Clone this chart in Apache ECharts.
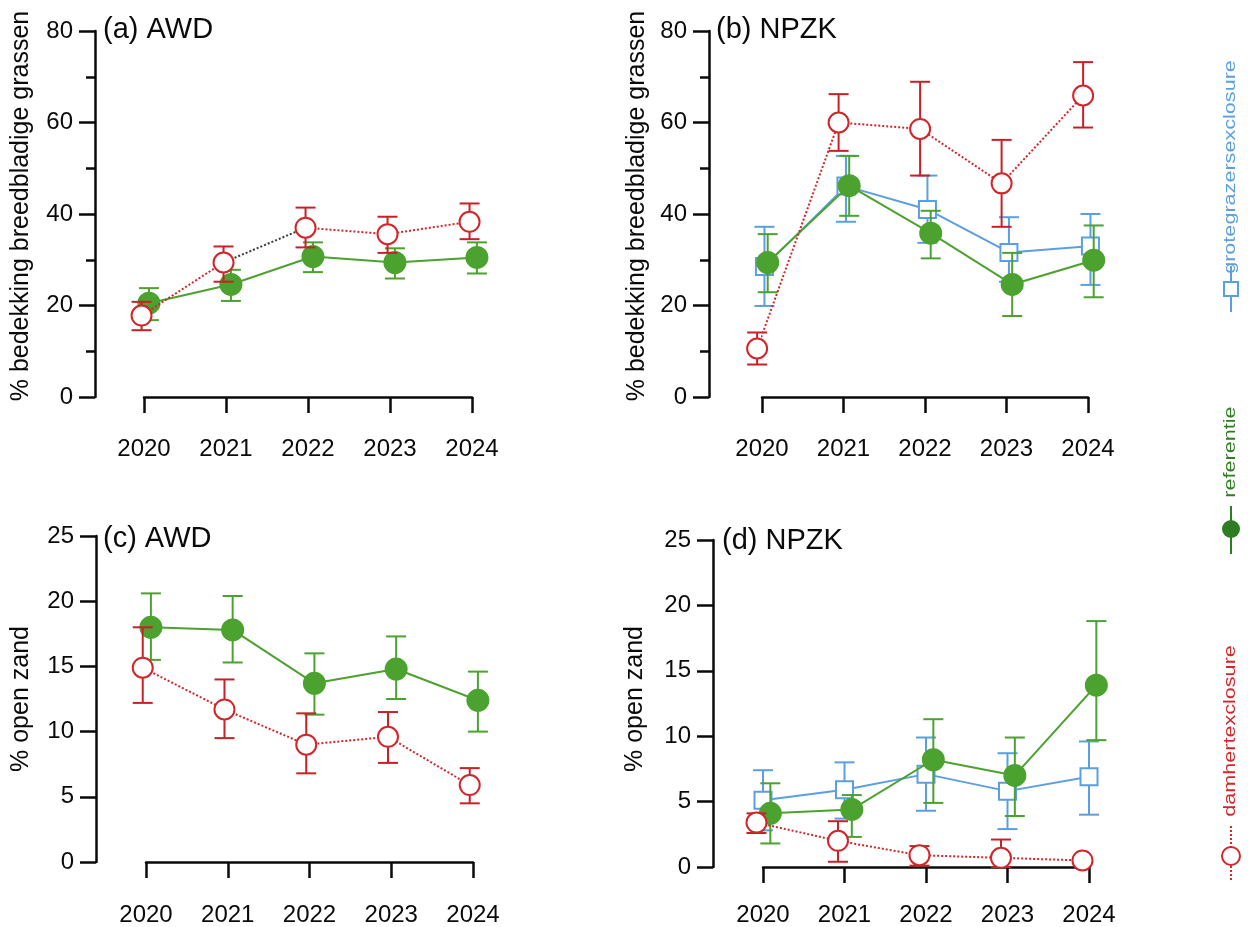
<!DOCTYPE html>
<html>
<head>
<meta charset="utf-8">
<script src="https://cdn.jsdelivr.net/npm/echarts@6/dist/echarts.min.js"></script>
<style>
  html, body { margin: 0; padding: 0; background: #fff; }
  #chart { width: 1248px; height: 927px; }
</style>
</head>
<body>
<div id="chart"></div>
<script>
// years on the x axis
const years = [2020, 2021, 2022, 2023, 2024];

// (a) AWD - % bedekking breedbladige grassen
const refA = [20.5, 24.6, 30.7, 29.4, 30.5];
const refALo = [16.8, 21.0, 27.3, 25.9, 27.0];
const refAHi = [23.8, 27.8, 33.8, 32.5, 33.8];
const damA = [17.8, 29.4, 37.0, 35.6, 38.3];
const damALo = [14.6, 25.2, 32.7, 31.5, 34.5];
const damAHi = [20.8, 32.9, 41.4, 39.4, 42.3];

// (b) NPZK - % bedekking breedbladige grassen
const damB = [10.6, 60.0, 58.6, 46.7, 65.9];
const damBLo = [7.1, 53.8, 48.4, 37.2, 58.9];
const damBHi = [14.1, 66.2, 68.9, 56.2, 73.2];
const groB = [28.5, 46.1, 41.0, 31.6, 33.0];
const groBLo = [19.9, 38.3, 33.7, 25.2, 24.5];
const groBHi = [37.2, 52.7, 48.4, 39.3, 40.0];
const refB = [29.4, 46.2, 35.8, 24.6, 29.9];
const refBLo = [22.9, 39.6, 30.3, 17.7, 21.8];
const refBHi = [35.6, 52.7, 40.7, 31.5, 37.5];

// (c) AWD - % open zand
const refC = [18.0, 17.8, 13.7, 14.8, 12.4];
const refCLo = [15.5, 15.3, 11.3, 12.5, 10.0];
const refCHi = [20.6, 20.4, 16.0, 17.3, 14.6];
const damC = [14.9, 11.7, 9.0, 9.6, 5.9];
const damCLo = [12.2, 9.5, 6.8, 7.6, 4.5];
const damCHi = [18.0, 14.0, 11.4, 11.5, 7.2];

// (d) NPZK - % open zand
const refD = [4.1, 4.4, 8.2, 7.0, 13.9];
const refDLo = [1.8, 2.3, 4.9, 3.9, 9.7];
const refDHi = [6.4, 5.5, 11.3, 9.9, 18.8];
const groD = [5.1, 5.9, 7.1, 5.8, 6.9];
const groDLo = [2.8, 3.7, 4.3, 2.9, 4.0];
const groDHi = [7.4, 8.0, 9.9, 8.7, 9.6];
const damD = [3.4, 2.0, 0.9, 0.7, 0.5];
const damDLo = [2.6, 0.4, 0.1, 0.0, 0.4];
const damDHi = [4.1, 3.5, 1.6, 2.1, 0.6];

// tick labels
const yTicksBreed = [0, 20, 40, 60, 80];
const yTicksZand = [0, 5, 10, 15, 20, 25];

const RED = '#d3262b';
const RED_BAR = '#c92027';
const GREEN = '#4ca22f';
const BLUE = '#5b9fe0';
const LEG_GREEN = '#2f7d22';
const INK = '#0a0a0a';
const FONT = '"Liberation Sans", Arial, sans-serif';

// panel layout: grid box + offset of the detached axes
const panels = [
  { left: 144, top: 31, width: 328, height: 366, yOff: 49, xOff: 19, ticks: yTicksBreed, minor: true },
  { left: 762, top: 31, width: 326, height: 366, yOff: 53, xOff: 19, ticks: yTicksBreed, minor: true },
  { left: 146, top: 536, width: 327, height: 328, yOff: 50, xOff: 20, ticks: yTicksZand, minor: false },
  { left: 763, top: 540, width: 326, height: 328, yOff: 50, xOff: 15, ticks: yTicksZand, minor: false }
];

const grid = [], xAxis = [], yAxis = [], series = [];

panels.forEach((p, i) => {
  grid.push({ left: p.left, top: p.top, width: p.width, height: p.height });
  const step = p.ticks[1] - p.ticks[0];
  xAxis.push({
    type: 'value', gridIndex: i, min: years[0], max: years[years.length - 1], interval: 1,
    offset: p.xOff,
    axisLine: { lineStyle: { color: INK, width: 2.5 } },
    axisTick: { length: 16, lineStyle: { color: INK, width: 2.5 } },
    axisLabel: { color: INK, fontSize: 24, fontFamily: FONT, margin: 21, formatter: v => String(v) },
    splitLine: { show: false }
  });
  yAxis.push({
    type: 'value', gridIndex: i, min: p.ticks[0], max: p.ticks[p.ticks.length - 1], interval: step,
    offset: p.yOff,
    axisLine: { show: true, lineStyle: { color: INK, width: 2.5 } },
    axisTick: { show: true, length: 16, lineStyle: { color: INK, width: 2.5 } },
    minorTick: { show: p.minor, splitNumber: 2, length: 9, lineStyle: { color: INK, width: 2.5 } },
    axisLabel: { color: INK, fontSize: 24, fontFamily: FONT, margin: 22 },
    splitLine: { show: false }
  });
});

function errorBar(color) {
  return function (params, api) {
    const x = api.value(0);
    const top = api.coord([x, api.value(3)]);
    const bot = api.coord([x, api.value(2)]);
    const w = 10;
    const st = { stroke: color, lineWidth: 2 };
    return {
      type: 'group',
      children: [
        { type: 'line', shape: { x1: top[0], y1: top[1], x2: bot[0], y2: bot[1] }, style: st },
        { type: 'line', shape: { x1: top[0] - w, y1: top[1], x2: top[0] + w, y2: top[1] }, style: st },
        { type: 'line', shape: { x1: bot[0] - w, y1: bot[1], x2: bot[0] + w, y2: bot[1] }, style: st }
      ]
    };
  };
}

const STYLES = {
  dam: { color: RED, bar: RED_BAR, fill: '#fff', symbol: 'circle', size: 20, dash: 'dotted', z: 6 },
  ref: { color: GREEN, bar: GREEN, fill: GREEN, symbol: 'circle', size: 21, dash: 'solid', z: 4 },
  gro: { color: BLUE, bar: BLUE, fill: '#fff', symbol: 'rect', size: 17, dash: 'solid', z: 2 }
};

function lineSeries(gi, pts, color, dash, z) {
  return {
    type: 'line', xAxisIndex: gi, yAxisIndex: gi, data: pts, symbol: 'none', clip: false,
    lineStyle: { color: color, width: 2, type: dash }, z: z, silent: true, animation: false
  };
}

function addGroup(gi, kind, mean, lo, hi, dx, noLine) {
  const s = STYLES[kind];
  const pts = years.map((y, i) => [y + dx, mean[i], lo[i], hi[i]]);
  series.push({
    type: 'custom', xAxisIndex: gi, yAxisIndex: gi, data: pts, renderItem: errorBar(s.bar),
    encode: { x: 0, y: [1, 2, 3] }, z: s.z, silent: true, animation: false
  });
  if (!noLine) series.push(lineSeries(gi, pts.map(p => [p[0], p[1]]), s.color, s.dash, s.z + 1));
  series.push({
    type: 'scatter', xAxisIndex: gi, yAxisIndex: gi, data: pts.map(p => [p[0], p[1]]),
    symbol: s.symbol, symbolSize: s.size, clip: false,
    itemStyle: { color: s.fill, borderColor: s.color, borderWidth: 2, opacity: 1 },
    z: s.z + 1, silent: true, animation: false
  });
  return pts;
}

// (a)
addGroup(0, 'ref', refA, refALo, refAHi, 0.06);
const pa = addGroup(0, 'dam', damA, damALo, damAHi, -0.03, true);
series.push(lineSeries(0, pa.slice(0, 2).map(p => [p[0], p[1]]), RED, 'dotted', 7));
series.push(lineSeries(0, pa.slice(1, 3).map(p => [p[0], p[1]]), '#3a3a3a', 'dotted', 7));
series.push(lineSeries(0, pa.slice(2).map(p => [p[0], p[1]]), RED, 'dotted', 7));
// (b)
addGroup(1, 'gro', groB, groBLo, groBHi, 0.03);
addGroup(1, 'ref', refB, refBLo, refBHi, 0.07);
addGroup(1, 'dam', damB, damBLo, damBHi, -0.06);
// (c)
addGroup(2, 'ref', refC, refCLo, refCHi, 0.06);
addGroup(2, 'dam', damC, damCLo, damCHi, -0.04);
// (d)
addGroup(3, 'gro', groD, groDLo, groDHi, 0.0);
addGroup(3, 'ref', refD, refDLo, refDHi, 0.09);
addGroup(3, 'dam', damD, damDLo, damDHi, -0.08);

function txt(x, y, text, size, opts) {
  opts = opts || {};
  return {
    type: 'text', x: x, y: y, rotation: opts.rot || 0, scaleX: opts.sx || 1,
    style: {
      text: text, fontSize: size, fontFamily: FONT, fill: opts.fill || INK,
      align: opts.align || 'left', verticalAlign: 'middle'
    }
  };
}

const R = Math.PI / 2;
const graphic = [
  txt(103, 30, '(a) AWD', 29),
  txt(716, 30, '(b) NPZK', 29),
  txt(103, 539, '(c) AWD', 29),
  txt(722, 541, '(d) NPZK', 29),
  txt(21, 206, '% bedekking breedbladige grassen', 25, { rot: R, align: 'center' }),
  txt(637, 206, '% bedekking breedbladige grassen', 25, { rot: R, align: 'center' }),
  txt(21, 699, '% open zand', 25, { rot: R, align: 'center' }),
  txt(635, 699, '% open zand', 25, { rot: R, align: 'center' }),
  // legend (vertical)
  txt(1231, 167, 'grotegrazersexclosure', 16, { rot: R, align: 'center', fill: BLUE, sx: 1.35 }),
  txt(1231, 452, 'referentie', 16, { rot: R, align: 'center', fill: LEG_GREEN, sx: 1.35 }),
  txt(1231, 731, 'damhertexclosure', 16, { rot: R, align: 'center', fill: RED, sx: 1.35 }),
  { type: 'line', shape: { x1: 1231, y1: 266, x2: 1231, y2: 312 }, style: { stroke: BLUE, lineWidth: 2 } },
  { type: 'rect', shape: { x: 1224, y: 282, width: 14, height: 14 }, style: { fill: '#fff', stroke: BLUE, lineWidth: 2 } },
  { type: 'line', shape: { x1: 1231, y1: 506, x2: 1231, y2: 554 }, style: { stroke: LEG_GREEN, lineWidth: 2 } },
  { type: 'circle', shape: { cx: 1231, cy: 529, r: 9 }, style: { fill: LEG_GREEN } },
  { type: 'line', shape: { x1: 1231, y1: 826, x2: 1231, y2: 880 }, style: { stroke: RED, lineWidth: 2, lineDash: [2, 2] } },
  { type: 'circle', shape: { cx: 1231, cy: 856, r: 9 }, style: { fill: '#fff', stroke: RED, lineWidth: 2 } }
];

const chart = echarts.init(document.getElementById('chart'));
chart.setOption({
  backgroundColor: '#fff',
  animation: false,
  grid: grid,
  xAxis: xAxis,
  yAxis: yAxis,
  series: series,
  graphic: graphic
});
</script>
</body>
</html>
